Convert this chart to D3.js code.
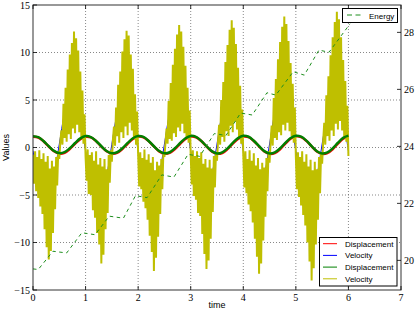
<!doctype html>
<html>
<head>
<meta charset="utf-8">
<script src="https://cdnjs.cloudflare.com/ajax/libs/d3/7.8.5/d3.min.js"></script>
<style>
  body { margin: 0; background: #fff; }
  .tick-label { font-family: "Liberation Serif", serif; font-size: 10px; fill: #000; }
  .lab { font-family: "Liberation Sans", Arial, sans-serif; font-size: 9px; fill: #000; }
  .leg { font-family: "Liberation Sans", Arial, sans-serif; font-size: 8px; fill: #000; }
</style>
</head>
<body>
<svg width="415" height="313"></svg>
<script>
// ---- data ----
var xTicks = [0, 1, 2, 3, 4, 5, 6, 7];
var yTicks = [-15, -10, -5, 0, 5, 10, 15];
var eTicks = [20, 22, 24, 26, 28];

// smooth series, sampled every 0.1 from t = 0 to 6
var stepSmooth = 0.1;
var dispRed = [
  1.12, 1.05, 0.66, 0.10, -0.40, -0.64, -0.56, -0.16, 0.38, 0.88,
  1.13, 1.06, 0.67, 0.10, -0.40, -0.65, -0.57, -0.16, 0.39, 0.89,
  1.14, 1.07, 0.67, 0.11, -0.41, -0.66, -0.57, -0.17, 0.39, 0.90,
  1.15, 1.08, 0.68, 0.11, -0.41, -0.66, -0.58, -0.17, 0.40, 0.91,
  1.16, 1.09, 0.69, 0.12, -0.42, -0.67, -0.59, -0.18, 0.40, 0.92,
  1.17, 1.10, 0.70, 0.12, -0.42, -0.68, -0.60, -0.18, 0.41, 0.93,
  1.18
];
var velBlue = [
  -0.35, -3.57, -5.42, -5.21, -3.00, 0.35, 3.57, 5.42, 5.21, 3.00,
  -0.35, -3.57, -5.42, -5.21, -3.00, 0.35, 3.57, 5.42, 5.21, 3.00,
  -0.36, -3.60, -5.45, -5.24, -3.02, 0.36, 3.60, 5.45, 5.24, 3.02,
  -0.36, -3.60, -5.45, -5.24, -3.02, 0.36, 3.60, 5.45, 5.24, 3.02,
  -0.37, -3.62, -5.48, -5.27, -3.04, 0.37, 3.62, 5.48, 5.27, 3.04,
  -0.37, -3.62, -5.48, -5.27, -3.04, 0.37, 3.62, 5.48, 5.27, 3.04,
  -0.37
];
var dispGreen = [
  1.19, 1.09, 0.68, 0.13, -0.36, -0.59, -0.49, -0.08, 0.47, 0.96,
  1.20, 1.10, 0.69, 0.13, -0.37, -0.60, -0.50, -0.08, 0.48, 0.97,
  1.21, 1.11, 0.69, 0.13, -0.37, -0.61, -0.50, -0.08, 0.48, 0.98,
  1.22, 1.12, 0.70, 0.14, -0.38, -0.62, -0.51, -0.09, 0.49, 0.99,
  1.23, 1.13, 0.71, 0.14, -0.38, -0.63, -0.52, -0.09, 0.49, 1.00,
  1.24, 1.14, 0.72, 0.14, -0.39, -0.64, -0.52, -0.09, 0.50, 1.01,
  1.25
];

// noisy velocity, sampled every 0.02 from t = 0
var stepNoisy = 0.02;
var velYellow = [
  -0.8,-3.8,-0.4,-4.6,-1.0,-5.3,-0.3,-6.2,-1.2,-7.0,-0.6,-8.6,-1.5,-10.5,-0.9,-11.8,-2.2,-10.9,-1.4,-9.0,-2.0,-6.5,-1.0,-4.0,-0.4,-1.2,0.6,1.8,0.3,4.6,1.0,6.3,0.6,8.2,1.4,9.8,0.9,11.0,2.0,12.2,1.5,11.5,2.4,10.2,1.6,8.0,1.0,6.0,0.4,3.5,
  -1.0,-3.5,-0.2,-4.9,-0.8,-5.0,-0.5,-6.6,-1.4,-7.4,-0.4,-9.0,-1.8,-10.2,-1.1,-12.2,-2.0,-11.3,-1.2,-8.6,-2.3,-6.9,-0.8,-3.7,-0.3,-1.5,0.8,2.2,0.2,4.2,1.2,6.6,0.5,8.0,1.6,10.1,1.0,11.4,2.2,12.3,1.3,11.8,2.6,9.8,1.8,8.3,0.9,5.6,0.3,3.8,
  -0.7,-4.1,-0.5,-4.4,-1.1,-5.7,-0.2,-6.4,-1.3,-7.6,-0.7,-9.3,-1.6,-11.0,-1.0,-13.0,-2.4,-11.6,-1.5,-9.4,-1.9,-7.0,-1.2,-4.4,-0.5,-1.0,0.5,2.0,0.4,4.9,0.9,6.8,0.7,8.7,1.5,10.4,1.1,11.9,2.1,12.9,1.7,12.2,2.5,10.6,1.5,8.6,1.1,6.3,0.5,3.9,
  -0.9,-3.9,-0.3,-5.1,-0.9,-5.5,-0.4,-6.9,-1.1,-7.2,-0.5,-9.1,-1.7,-11.2,-1.2,-12.8,-2.1,-11.9,-1.3,-9.6,-2.2,-6.8,-0.9,-4.2,-0.6,-1.4,0.7,2.4,0.3,5.0,1.1,6.9,0.6,9.0,1.7,10.8,1.2,12.4,2.3,13.4,1.6,12.6,2.7,10.9,1.9,8.4,1.0,6.5,0.4,4.0,
  -0.8,-4.2,-0.4,-4.8,-1.2,-6.0,-0.3,-6.7,-1.4,-7.9,-0.6,-9.6,-1.9,-11.5,-1.1,-13.3,-2.3,-12.2,-1.6,-9.8,-2.1,-7.3,-1.1,-4.6,-0.4,-1.6,0.6,2.3,0.2,5.2,1.0,7.2,0.8,9.3,1.6,11.1,1.3,12.7,2.4,13.8,1.8,13.0,2.6,11.2,1.7,8.9,1.2,6.7,0.5,4.2,
  -1.0,-4.4,-0.5,-5.2,-1.0,-6.1,-0.4,-7.1,-1.5,-8.2,-0.7,-10.0,-2.0,-12.0,-1.3,-14.0,-2.4,-12.7,-1.5,-10.2,-2.3,-7.6,-1.0,-4.8,-0.5,-1.7,0.7,2.6,0.3,5.5,1.2,7.5,0.7,9.7,1.8,11.6,1.2,13.2,2.5,14.3,1.9,13.5,2.8,11.6,1.8,9.2,1.1,7.0,0.6,4.4,
  -0.9
];

// energy (right axis): breakpoints of the stepped dashed curve
var energyT = [0, 0.10, 0.38, 0.64, 0.93, 1.18, 1.45, 1.72, 1.95, 2.17, 2.45, 2.68, 2.95, 3.17,
               3.45, 3.67, 3.95, 4.17, 4.45, 4.62, 4.95, 5.16, 5.44, 5.63, 6.03];
var energyV = [19.70, 19.68, 20.32, 20.26, 20.97, 20.90, 21.55, 21.48, 22.27, 22.20, 23.00, 22.92, 23.72, 23.65,
               24.45, 24.38, 25.17, 25.10, 25.88, 25.80, 26.62, 26.50, 27.38, 27.30, 28.30];

// ---- layout ----
var svg = d3.select("svg");
var pLeft = 33, pRight = 401, pTop = 5, pBottom = 290;

var x = d3.scaleLinear().domain([0, 7]).range([pLeft, pRight]);
var y = d3.scaleLinear().domain([-15, 15]).range([pBottom, pTop]);
var yE = d3.scaleLinear().domain([18.96, 28.96]).range([pBottom, pTop]);

svg.append("defs").append("clipPath").attr("id", "clip")
  .append("rect").attr("x", pLeft).attr("y", pTop)
  .attr("width", pRight - pLeft).attr("height", pBottom - pTop);

// grid
var grid = svg.append("g").attr("stroke", "#555").attr("stroke-width", 0.7)
  .attr("stroke-dasharray", "1,2");
grid.selectAll(".gx").data(xTicks.slice(1, -1)).enter().append("line")
  .attr("x1", d => x(d)).attr("x2", d => x(d)).attr("y1", pTop).attr("y2", pBottom);
grid.selectAll(".gy").data(yTicks.slice(1, -1)).enter().append("line")
  .attr("y1", d => y(d)).attr("y2", d => y(d)).attr("x1", pLeft).attr("x2", pRight);

// series
var plot = svg.append("g").attr("clip-path", "url(#clip)");
var smoothLine = d3.line()
  .x((d, i) => x(i * stepSmooth)).y(d => y(d)).curve(d3.curveCatmullRom);
var noisyLine = d3.line()
  .x((d, i) => x(i * stepNoisy)).y(d => y(d));

plot.append("path").datum(dispRed).attr("d", smoothLine)
  .attr("fill", "none").attr("stroke", "#ff0000").attr("stroke-width", 2.5);
plot.append("path").datum(velBlue).attr("d", smoothLine)
  .attr("fill", "none").attr("stroke", "#0000ff").attr("stroke-width", 1);
plot.append("path").datum(velYellow).attr("d", noisyLine)
  .attr("fill", "none").attr("stroke", "#bfbf00").attr("stroke-width", 2)
  .attr("stroke-linejoin", "miter").attr("stroke-miterlimit", 1.5);
plot.append("path").datum(dispGreen).attr("d", smoothLine)
  .attr("fill", "none").attr("stroke", "#008000").attr("stroke-width", 2.5);

var energyLine = d3.line().x((d, i) => x(energyT[i])).y(d => yE(d));
plot.append("path").datum(energyV).attr("d", energyLine)
  .attr("fill", "none").attr("stroke", "#1f8f1f").attr("stroke-width", 1)
  .attr("stroke-dasharray", "3.5,3.5");

// frame
svg.append("rect").attr("x", pLeft).attr("y", pTop)
  .attr("width", pRight - pLeft).attr("height", pBottom - pTop)
  .attr("fill", "none").attr("stroke", "#333").attr("stroke-width", 1);

// ticks (inward)
var ticks = svg.append("g").attr("stroke", "#000").attr("stroke-width", 0.8);
xTicks.forEach(function (t) {
  ticks.append("line").attr("x1", x(t)).attr("x2", x(t)).attr("y1", pBottom).attr("y2", pBottom - 4);
  ticks.append("line").attr("x1", x(t)).attr("x2", x(t)).attr("y1", pTop).attr("y2", pTop + 4);
});
yTicks.forEach(function (t) {
  ticks.append("line").attr("x1", pLeft).attr("x2", pLeft + 4).attr("y1", y(t)).attr("y2", y(t));
});
eTicks.forEach(function (t) {
  ticks.append("line").attr("x1", pRight).attr("x2", pRight - 4).attr("y1", yE(t)).attr("y2", yE(t));
});

// tick labels
function fmt(v) { return v < 0 ? "\u2212" + Math.abs(v) : String(v); }
svg.selectAll(".xl").data(xTicks).enter().append("text").attr("class", "tick-label")
  .attr("x", d => x(d)).attr("y", pBottom + 11).attr("text-anchor", "middle").text(fmt);
svg.selectAll(".yl").data(yTicks).enter().append("text").attr("class", "tick-label")
  .attr("x", pLeft - 3).attr("y", d => y(d) + 3.5).attr("text-anchor", "end").text(fmt);
svg.selectAll(".el").data(eTicks).enter().append("text").attr("class", "tick-label")
  .attr("x", pRight + 3).attr("y", d => yE(d) + 3.5).attr("text-anchor", "start").text(fmt);

// axis titles
svg.append("text").attr("class", "lab").attr("x", (pLeft + pRight) / 2).attr("y", 308)
  .attr("text-anchor", "middle").text("time");
svg.append("text").attr("class", "lab").attr("text-anchor", "middle")
  .attr("transform", "translate(9," + ((pTop + pBottom) / 2) + ") rotate(-90)").text("Values");

// legend: energy
var le = svg.append("g");
le.append("rect").attr("x", 342.5).attr("y", 8.5).attr("width", 55).attr("height", 14)
  .attr("fill", "#fff").attr("stroke", "#000").attr("stroke-width", 1);
le.append("line").attr("x1", 347).attr("x2", 362).attr("y1", 15).attr("y2", 15)
  .attr("stroke", "#1f8f1f").attr("stroke-width", 1).attr("stroke-dasharray", "5,3.5");
le.append("text").attr("class", "leg").attr("x", 369).attr("y", 18.5).text("Energy");

// legend: series
var legItems = [
  { name: "Displacement", color: "#ff0000" },
  { name: "Velocity", color: "#0000ff" },
  { name: "Displacement", color: "#008000" },
  { name: "Velocity", color: "#bfbf00" }
];
var lg = svg.append("g");
lg.append("rect").attr("x", 319.5).attr("y", 237.5).attr("width", 77.5).attr("height", 48.5)
  .attr("fill", "#fff").attr("stroke", "#000").attr("stroke-width", 1);
legItems.forEach(function (d, i) {
  var yy = 243.7 + i * 11.7;
  lg.append("line").attr("x1", 323).attr("x2", 337).attr("y1", yy).attr("y2", yy)
    .attr("stroke", d.color).attr("stroke-width", 1);
  lg.append("text").attr("class", "leg").attr("x", 345).attr("y", yy + 3).text(d.name);
});
</script>
</body>
</html>
